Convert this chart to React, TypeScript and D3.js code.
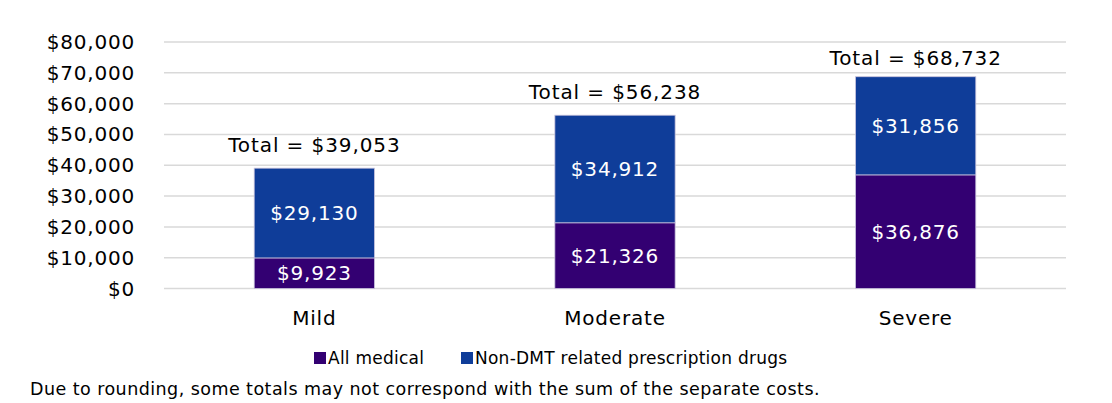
import React, { useRef, useEffect } from "react";
import * as d3 from "d3";

const categories = ["Mild", "Moderate", "Severe"];
const medical = [9923, 21326, 36876];
const drugs = [29130, 34912, 31856];
const totals = [39053, 56238, 68732];
const yTicks = [0, 10000, 20000, 30000, 40000, 50000, 60000, 70000, 80000];
const seriesNames = ["All medical", "Non-DMT related prescription drugs"];
const footnote = "Due to rounding, some totals may not correspond with the sum of the separate costs.";

const W = 1112;
const H = 403;
const FONT = "'DejaVu Sans', Verdana, sans-serif";
const PURPLE = "#330072";
const BLUE = "#0f3d99";

const App = () => {
  const svgRef = useRef<SVGSVGElement>(null);

  useEffect(() => {
    const svg = d3.select(svgRef.current);
    svg.selectAll("*").remove();
    svg.attr("font-family", FONT);

    const x = d3.scaleBand<string>()
      .domain(categories)
      .range([164, 1066])
      .paddingInner(0.6)
      .paddingOuter(0.3);

    const y = d3.scaleLinear().domain([0, 80000]).range([288.5, 42]);
    const fmt = (v: number) => "$" + d3.format(",")(v);

    // gridlines
    svg.append("g")
      .selectAll("line")
      .data(yTicks)
      .join("line")
      .attr("x1", 164)
      .attr("x2", 1066)
      .attr("y1", d => y(d))
      .attr("y2", d => y(d))
      .attr("stroke", "#d9d9d9")
      .attr("stroke-width", 1.5);

    // y tick labels
    svg.append("g")
      .selectAll("text")
      .data(yTicks)
      .join("text")
      .attr("x", 135)
      .attr("y", d => y(d))
      .attr("dy", "0.35em")
      .attr("text-anchor", "end")
      .attr("font-size", 20)
      .attr("letter-spacing", 0.8)
      .attr("fill", "#000")
      .text(d => fmt(d));

    // stacked data
    const rows = categories.map((c, i) => ({ cat: c, medical: medical[i], drugs: drugs[i] }));
    const stack = d3.stack<any>().keys(["medical", "drugs"])(rows);
    const colors = [PURPLE, BLUE];

    stack.forEach((layer, li) => {
      const g = svg.append("g");
      g.selectAll("rect")
        .data(layer)
        .join("rect")
        .attr("x", d => x(d.data.cat)!)
        .attr("width", x.bandwidth())
        .attr("y", d => y(d[1]))
        .attr("height", d => y(d[0]) - y(d[1]))
        .attr("fill", colors[li])
        .attr("stroke", "#c9c3dc")
        .attr("stroke-width", 0.8);

      g.selectAll("text")
        .data(layer)
        .join("text")
        .attr("x", d => x(d.data.cat)! + x.bandwidth() / 2)
        .attr("y", d => (y(d[0]) + y(d[1])) / 2)
        .attr("dy", "0.35em")
        .attr("text-anchor", "middle")
        .attr("font-size", 20)
        .attr("letter-spacing", 0.8)
        .attr("fill", "#fff")
        .text(d => fmt(d[1] - d[0]));
    });

    // totals (kept inside the top of the plot)
    svg.append("g")
      .selectAll("text")
      .data(categories)
      .join("text")
      .attr("x", d => x(d)! + x.bandwidth() / 2)
      .attr("y", (d, i) => Math.max(y(totals[i]) - 23, y(80000) + 16))
      .attr("dy", "0.35em")
      .attr("text-anchor", "middle")
      .attr("font-size", 20)
      .attr("letter-spacing", 0.9)
      .attr("fill", "#000")
      .text((d, i) => "Total = " + fmt(totals[i]));

    // category labels
    svg.append("g")
      .selectAll("text")
      .data(categories)
      .join("text")
      .attr("x", d => x(d)! + x.bandwidth() / 2)
      .attr("y", 318)
      .attr("dy", "0.35em")
      .attr("text-anchor", "middle")
      .attr("font-size", 20)
      .attr("letter-spacing", 0.8)
      .attr("fill", "#000")
      .text(d => d);

    // legend
    const legendX = [314, 461];
    const legend = svg.append("g");
    seriesNames.forEach((name, i) => {
      legend.append("rect")
        .attr("x", legendX[i])
        .attr("y", 352)
        .attr("width", 12)
        .attr("height", 12)
        .attr("fill", colors[i]);
      legend.append("text")
        .attr("x", legendX[i] + 14)
        .attr("y", 358)
        .attr("dy", "0.35em")
        .attr("font-size", 17)
        .attr("letter-spacing", 0.25)
        .attr("fill", "#000")
        .text(name);
    });

    // footnote
    svg.append("text")
      .attr("x", 30)
      .attr("y", 389)
      .attr("dy", "0.35em")
      .attr("font-size", 17.5)
      .attr("letter-spacing", 0.45)
      .attr("fill", "#000")
      .text(footnote);
  }, []);

  return (
    <svg
      ref={svgRef}
      width={W}
      height={H}
      style={{ position: "absolute", left: 0, top: 0, background: "#fff" }}
    />
  );
};

export default App;
